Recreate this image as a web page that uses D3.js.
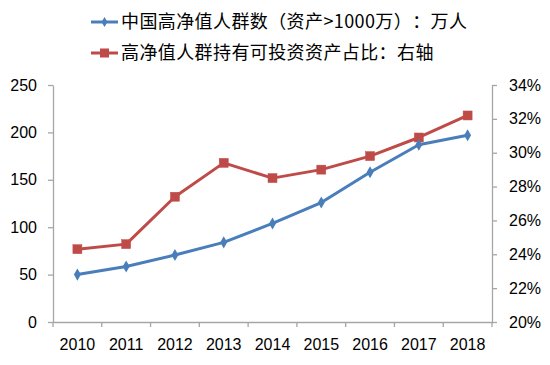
<!DOCTYPE html>
<html><head><meta charset="utf-8">
<script src="https://cdn.jsdelivr.net/npm/d3@7"></script>
<style>body{margin:0;background:#fff}svg{display:block}text{text-spacing-trim:space-all}</style>
</head><body>
<script>
const years = ["2010","2011","2012","2013","2014","2015","2016","2017","2018"];
const hnwCount = [50, 58.6, 70.6, 84, 104, 126, 158, 187, 197];
const investShare = [0.243, 0.246, 0.274, 0.294, 0.285, 0.290, 0.298, 0.309, 0.322];
const leftTicks = [0, 50, 100, 150, 200, 250];
const rightTicks = [0.20, 0.22, 0.24, 0.26, 0.28, 0.30, 0.32, 0.34];
const legendLabels = ["中国高净值人群数（资产>1000万）：万人", "高净值人群持有可投资资产占比：右轴"];
const colors = ["#4A7EBB", "#BE4B48"];

const W = 550, H = 365;
const m = {l: 53, r: 58, t: 85, b: 43};
const svg = d3.select("body").append("svg").attr("width", W).attr("height", H);
const x = d3.scaleBand().domain(years).range([m.l, W - m.r]);
const yL = d3.scaleLinear().domain([0, 250]).range([H - m.b, m.t]);
const yR = d3.scaleLinear().domain([0.20, 0.34]).range([H - m.b, m.t]);
const axisColor = "#A6A6A6";
const tickFont = "'Liberation Sans', Arial, sans-serif";

function styleAxis(g) {
  g.select(".domain").attr("stroke", axisColor).attr("stroke-width", 1.3);
  g.selectAll(".tick line").attr("stroke", axisColor).attr("stroke-width", 1.3);
  g.selectAll("text").attr("fill", "#000").style("font-family", tickFont).style("font-size", "16px");
}

svg.append("g").attr("transform", `translate(0,${H - m.b})`)
  .call(d3.axisBottom(x).tickSize(0).tickPadding(17)).call(styleAxis);
// category separator ticks
svg.append("g").selectAll("line").data(years.concat(["end"])).join("line")
  .attr("x1", (d, i) => m.l + i * x.step()).attr("x2", (d, i) => m.l + i * x.step())
  .attr("y1", H - m.b).attr("y2", H - m.b + 5).attr("stroke", axisColor).attr("stroke-width", 1.3);

svg.append("g").attr("transform", `translate(${m.l},0)`)
  .call(d3.axisLeft(yL).tickValues(leftTicks).tickSize(5).tickPadding(11).tickSizeOuter(0)).call(styleAxis);
svg.append("g").attr("transform", `translate(${W - m.r},0)`)
  .call(d3.axisRight(yR).tickValues(rightTicks).tickFormat(d3.format(".0%")).tickSize(5).tickPadding(12).tickSizeOuter(0)).call(styleAxis);

const cx = d => x(d) + x.bandwidth() / 2;
const lineL = d3.line().x((d, i) => cx(years[i])).y(d => yL(d));
const lineR = d3.line().x((d, i) => cx(years[i])).y(d => yR(d));

svg.append("path").datum(investShare).attr("d", lineR).attr("fill", "none")
  .attr("stroke", colors[1]).attr("stroke-width", 3).attr("stroke-linejoin", "round");
svg.append("path").datum(hnwCount).attr("d", lineL).attr("fill", "none")
  .attr("stroke", colors[0]).attr("stroke-width", 3).attr("stroke-linejoin", "round");

svg.append("g").selectAll("rect").data(investShare).join("rect")
  .attr("x", (d, i) => cx(years[i]) - 4.5).attr("y", d => yR(d) - 4.5)
  .attr("width", 9).attr("height", 9).attr("fill", colors[1]).attr("stroke", "#C0504D").attr("stroke-width", 0.5);
const diamond = d3.symbol().type(d3.symbolDiamond).size(42);
svg.append("g").selectAll("path").data(hnwCount).join("path")
  .attr("transform", (d, i) => `translate(${cx(years[i])},${yL(d)})`)
  .attr("d", diamond).attr("fill", colors[0]);

// legend
const leg = svg.append("g");
const ly = [22, 53];
legendLabels.forEach((t, i) => {
  leg.append("line").attr("x1", 91).attr("x2", 118).attr("y1", ly[i]).attr("y2", ly[i])
    .attr("stroke", colors[i]).attr("stroke-width", 3);
  if (i === 0) {
    leg.append("path").attr("transform", `translate(104.5,${ly[i]})`).attr("d", d3.symbol().type(d3.symbolDiamond).size(30)).attr("fill", colors[0]);
  } else {
    leg.append("rect").attr("x", 100).attr("y", ly[i] - 4.5).attr("width", 9).attr("height", 9).attr("fill", colors[1]);
  }
  leg.append("text").attr("x", 121).attr("y", ly[i]).attr("dy", "0.36em")
    .style("font-family", "'Noto Sans CJK SC', sans-serif").style("font-size", "18px")
    .style("letter-spacing", "0.4px").attr("fill", "#000").text(t);
});
</script>
</body></html>
